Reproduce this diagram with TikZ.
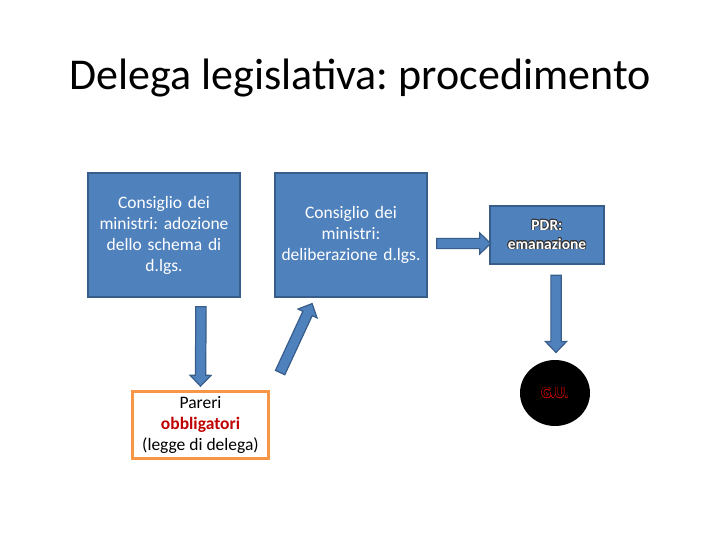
\documentclass[tikz,border=0pt]{standalone}
\usepackage{fontspec}
\setmainfont{Carlito}
\usepackage{contour}
\usepackage{tikz}
\usetikzlibrary{positioning,calc,shapes.geometric,shapes.arrows}
\definecolor{boxblue}{HTML}{4F81BD}
\definecolor{boxedge}{HTML}{385D8A}
\definecolor{paredge}{HTML}{F79646}
\definecolor{redtext}{HTML}{C00000}
\contourlength{0.6pt}
\frenchspacing

\begin{document}
\begin{tikzpicture}[x=1pt,y=-1pt,node distance=30pt,
                    font=\fontsize{17.5}{21}\selectfont]
  \tikzstyle{bluebox}=[rectangle,draw=boxedge,fill=boxblue,line width=2pt,
                       text=white,align=center,inner sep=2pt]
  \tikzstyle{parbox}=[rectangle,draw=paredge,fill=white,line width=3pt,
                      text=black,align=center,inner sep=2pt]
  \tikzstyle{blockarrow}=[single arrow,draw=boxedge,fill=boxblue,line width=1.2pt,
                          inner sep=4.2pt,minimum width=21pt,
                          single arrow head extend=5pt,single arrow tip angle=88]

  \useasboundingbox (0,0) rectangle (720,540);

  \node (title) at (360,78) {\fontsize{44}{48}\selectfont Delega legislativa: procedimento};

  \node[bluebox,minimum width=152pt,minimum height=124pt,text width=146pt] (adoz) at (164,235)
        {Consiglio dei\\ministri: adozione\\dello schema di\\d.lgs.};
  \node[bluebox,minimum width=152pt,minimum height=124pt,text width=148pt] (delib) [right=33pt of adoz]
        {Consiglio dei\\ministri:\\deliberazione d.lgs.};
  \node[bluebox,minimum width=114pt,minimum height=57pt,
        font=\fontsize{15.5}{19}\selectfont\bfseries] (pdr) [right=61pt of delib]
        {\contour{black!80}{PDR:}\\\contour{black!80}{emanazione}};
  \node[parbox,minimum width=136pt,minimum height=67pt] (pareri) at (200.5,425)
        {Pareri\\\textcolor{redtext}{\bfseries obbligatori}\\(legge di delega)};
  \node[ellipse,fill=black,minimum width=70pt,minimum height=66pt,
        font=\fontsize{15}{16}\selectfont\bfseries] (gu) at (555,393)
        {\contourlength{0.35pt}\contour{redtext}{\textcolor{black}{G.U.}}};

  % punti delle frecce
  \coordinate (a1s) at ($(adoz.south)+(37,6)$);
  \coordinate (a1e) at ($(pareri.north)+(0,-6.5)$);
  \coordinate (a2s) at ($(pareri.north east)+(9,-15)$);
  \coordinate (a2e) at ($(delib.south west)+(37,8)$);
  \coordinate (a3s) at ($(delib.east)+(6,8.5)$);
  \coordinate (a3e) at ($(pdr.west)+(-1,8.5)$);
  \coordinate (a4s) at ($(pdr.south)+(9,8)$);
  \coordinate (a4e) at ($(gu.north)+(1,-10)$);

  \foreach \s/\e in {a1s/a1e,a2s/a2e,a3s/a3e,a4s/a4e}
    \path let \p1=($(\e)-(\s)$), \n1={veclen(\x1,\y1)}, \n2={atan2(\y1,\x1)} in
      node[blockarrow,minimum height=\n1,rotate=\n2] at ($(\s)!0.5!(\e)$) {};
\end{tikzpicture}
\end{document}
